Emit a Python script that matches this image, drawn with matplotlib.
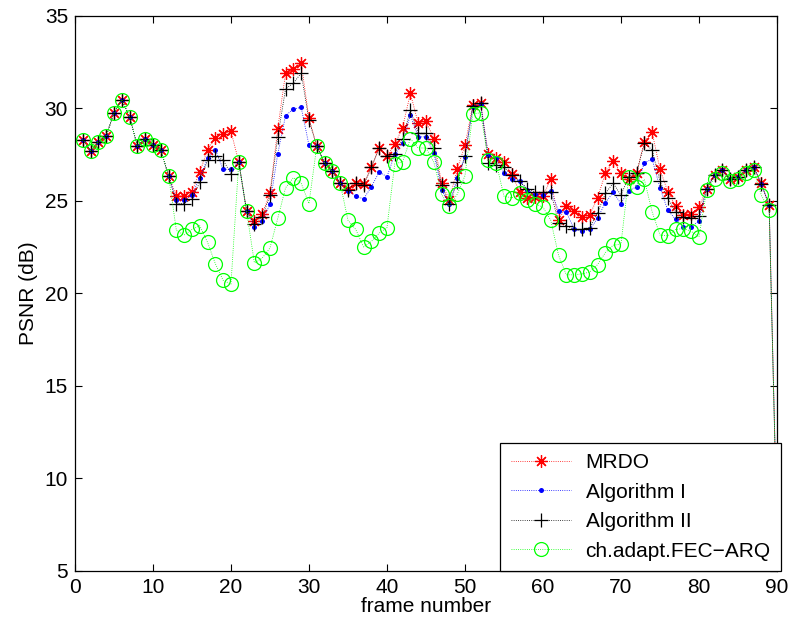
import numpy as np
import matplotlib.pyplot as plt

plt.rcParams["font.family"] = ["Liberation Sans", "DejaVu Sans"]

frames = np.arange(1, 91)

# PSNR per frame (dB)
mrdo = [
    28.3, 27.7, 28.2, 28.5, 29.75, 30.45, 29.55, 27.95, 28.35, 28.0,
    27.75, 26.35, 25.25, 25.25, 25.5, 26.55, 27.75, 28.4, 28.6, 28.75,
    27.1, 24.45, 23.9, 24.3, 25.4, 28.9, 31.9, 32.1, 32.45, 29.45,
    27.95, 27.05, 26.6, 25.95, 25.65, 25.95, 25.9, 26.8, 27.85, 27.4,
    28.05, 28.95, 30.8, 29.2, 29.3, 28.35, 25.95, 25.05, 26.7, 28.0,
    30.15, 30.3, 27.5, 27.3, 27.1, 26.45, 25.5, 25.15, 25.2, 25.25,
    26.15, 23.95, 24.7, 24.45, 24.1, 24.25, 25.15, 26.5, 27.15, 26.5,
    26.2, 26.5, 28.2, 28.7, 26.7, 25.5, 24.7, 24.25, 24.3, 24.65,
    25.65, 26.4, 26.65, 26.15, 26.3, 26.65, 26.85, 25.95, 24.75, 7.3,
]
alg1 = [
    28.3, 27.7, 28.2, 28.5, 29.75, 30.45, 29.55, 27.95, 28.35, 28.0,
    27.75, 26.35, 25.05, 25.05, 25.3, 26.25, 27.3, 27.75, 26.7, 26.7,
    27.1, 24.45, 23.6, 23.9, 24.8, 27.55, 29.6, 29.95, 30.05, 28.0,
    27.95, 27.05, 26.6, 25.95, 25.55, 25.25, 25.1, 25.75, 26.55, 26.3,
    27.5, 28.1, 29.65, 28.45, 28.45, 27.6, 25.6, 24.8, 26.25, 27.35,
    30.05, 30.25, 27.45, 27.3, 26.5, 26.2, 26.05, 25.6, 25.35, 25.3,
    25.55, 24.45, 24.4, 23.45, 23.35, 23.45, 24.05, 24.9, 25.45, 24.85,
    25.55, 25.75, 27.05, 27.25, 25.7, 24.5, 24.0, 23.6, 23.6, 23.9,
    25.65, 26.4, 26.65, 26.15, 26.3, 26.65, 26.85, 25.9, 24.75, 7.3,
]
alg2 = [
    28.3, 27.7, 28.2, 28.5, 29.75, 30.45, 29.55, 27.95, 28.35, 28.0,
    27.75, 26.35, 24.85, 24.85, 25.1, 26.0, 27.2, 27.4, 27.2, 26.45,
    27.1, 24.45, 23.75, 24.1, 25.3, 28.45, 31.05, 31.35, 31.9, 29.35,
    27.95, 27.05, 26.6, 25.95, 25.6, 25.95, 25.85, 26.8, 27.85, 27.4,
    27.55, 28.35, 29.9, 28.65, 28.65, 27.85, 25.85, 24.8, 26.0, 27.4,
    30.1, 30.3, 27.05, 26.95, 26.8, 26.4, 26.05, 25.65, 25.45, 25.45,
    25.5, 23.8, 23.65, 23.45, 23.45, 23.55, 24.35, 25.4, 25.95, 25.3,
    26.3, 26.5, 28.1, 27.75, 26.05, 25.15, 24.4, 24.1, 24.05, 24.2,
    25.65, 26.4, 26.65, 26.15, 26.3, 26.65, 26.85, 25.9, 24.75, 7.3,
]
fec_arq = [
    28.3, 27.7, 28.2, 28.5, 29.75, 30.45, 29.55, 27.95, 28.35, 28.0,
    27.75, 26.35, 23.4, 23.15, 23.45, 23.65, 22.75, 21.6, 20.7, 20.5,
    27.1, 24.45, 21.65, 21.9, 22.45, 24.05, 25.7, 26.25, 25.95, 24.85,
    27.95, 27.05, 26.6, 25.95, 23.95, 23.45, 22.5, 22.8, 23.25, 23.55,
    27.0, 27.1, 28.35, 27.85, 27.85, 27.1, 25.35, 24.7, 25.35, 26.35,
    29.7, 29.75, 27.2, 27.05, 25.25, 25.15, 25.4, 25.05, 24.85, 24.65,
    23.95, 22.05, 21.0, 21.0, 21.05, 21.15, 21.55, 22.2, 22.6, 22.65,
    26.3, 25.75, 26.15, 24.4, 23.15, 23.1, 23.45, 23.5, 23.35, 23.05,
    25.6, 26.2, 26.5, 26.05, 26.2, 26.5, 26.65, 25.3, 24.5, 7.3,
]

labels = ["MRDO", "Algorithm I", "Algorithm II", "ch.adapt.FEC\u2212ARQ"]

FS = 15

fig = plt.figure(figsize=(7.95, 6.31), dpi=100)
ax = fig.add_axes([0.0943, 0.0951, 0.883, 0.8801])

line_kw = dict(linestyle=":", linewidth=0.6)
ax.plot(frames, mrdo, color="red", marker=(8, 2, 0), markersize=9,
        markeredgewidth=0.9, label=labels[0], **line_kw)
ax.plot(frames, alg1, color="blue", marker="o", markersize=3.6,
        markeredgewidth=0, label=labels[1], **line_kw)
ax.plot(frames, alg2, color="black", marker="+", markersize=10,
        markeredgewidth=0.9, label=labels[2], **line_kw)
ax.plot(frames, fec_arq, color="#00ff00", marker="o", markersize=10,
        markerfacecolor="none", markeredgewidth=0.9, label=labels[3], **line_kw)

ax.set_xlim(0, 90)
ax.set_ylim(5, 35)
ax.set_xticks(np.arange(0, 91, 10))
ax.set_yticks(np.arange(5, 36, 5))
ax.tick_params(direction="in", length=5, width=0.8, top=True, right=True,
               labelsize=FS, pad=5)
for spine in ax.spines.values():
    spine.set_linewidth(0.9)

ax.set_xlabel("frame number", fontsize=FS, labelpad=0)
ax.set_ylabel("PSNR (dB)", fontsize=FS, labelpad=5)

leg = ax.legend(loc="lower right", bbox_to_anchor=(1.006, 0.0),
                borderaxespad=0, fontsize=FS, fancybox=False,
                edgecolor="black", framealpha=1, handlelength=2.9,
                handletextpad=0.7, labelspacing=0.5, borderpad=0.5)
leg.get_frame().set_linewidth(0.9)

fig.savefig("out.png", dpi=100)
